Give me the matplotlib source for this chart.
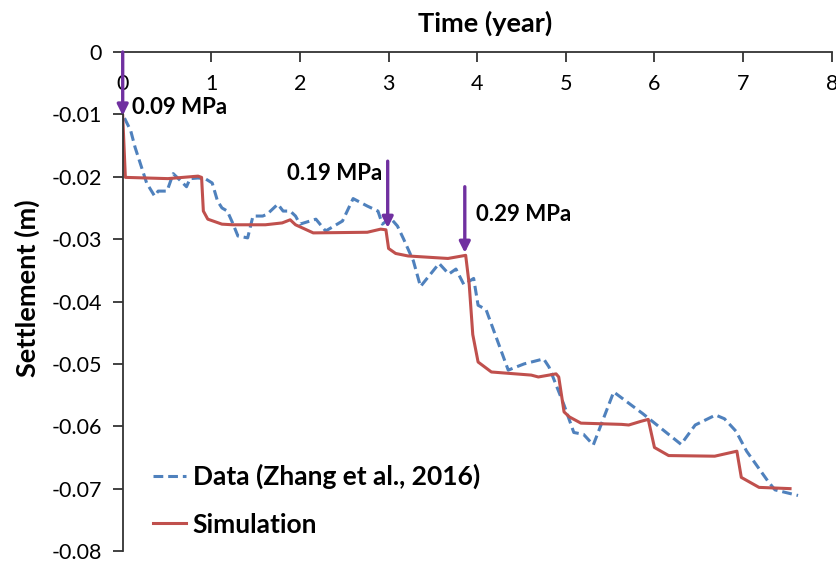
import numpy as np
import matplotlib
matplotlib.use('Agg')
import matplotlib.pyplot as plt
from matplotlib.ticker import FuncFormatter

plt.rcParams['font.family'] = ['Lato', 'DejaVu Sans']
plt.rcParams['axes.unicode_minus'] = False

# measured settlement (dashed)
data_t = [0.02, 0.09, 0.14, 0.27, 0.36, 0.40, 0.50, 0.57, 0.65, 0.72, 0.76, 0.85,
          0.93, 1.01, 1.07, 1.12, 1.18, 1.24, 1.30, 1.41, 1.47, 1.58, 1.63, 1.75,
          1.81, 1.89, 1.95, 2.00, 2.18, 2.29, 2.48, 2.60, 2.76, 2.88, 2.93, 3.02,
          3.10, 3.17, 3.28, 3.36, 3.57, 3.68, 3.76, 3.85, 3.96, 4.01, 4.10, 4.35,
          4.53, 4.75, 4.81, 4.98, 5.09, 5.20, 5.31, 5.54, 5.87, 6.30, 6.46, 6.69,
          6.79, 6.92, 7.04, 7.28, 7.36, 7.62]
data_v = [-0.0106, -0.0126, -0.0153, -0.0210, -0.0231, -0.0223, -0.0223, -0.0195,
          -0.0206, -0.0216, -0.0203, -0.0202, -0.0203, -0.0210, -0.0239, -0.0250,
          -0.0255, -0.0274, -0.0295, -0.0298, -0.0263, -0.0263, -0.0260, -0.0244,
          -0.0255, -0.0255, -0.0263, -0.0276, -0.0268, -0.0287, -0.0271, -0.0235,
          -0.0247, -0.0255, -0.0276, -0.0266, -0.0279, -0.0300, -0.0335, -0.0376,
          -0.0339, -0.0356, -0.0348, -0.0373, -0.0363, -0.0406, -0.0413, -0.0510,
          -0.0500, -0.0492, -0.0505, -0.0566, -0.0610, -0.0613, -0.0630, -0.0545,
          -0.0580, -0.0629, -0.0598, -0.0582, -0.0588, -0.0608, -0.0640, -0.0688,
          -0.0702, -0.0711]

# model result (solid)
sim_t = [0.0, 0.03, 0.51, 0.85, 0.89, 0.91, 0.96, 1.12, 1.24, 1.61, 1.80, 1.89,
         1.95, 2.15, 2.76, 2.91, 2.97, 3.00, 3.08, 3.22, 3.67, 3.87, 3.91, 3.95,
         4.01, 4.16, 4.61, 4.69, 4.89, 4.92, 4.98, 5.04, 5.17, 5.63, 5.71, 5.85,
         5.93, 6.00, 6.16, 6.68, 6.93, 6.98, 7.18, 7.53]
sim_v = [-0.0102, -0.0201, -0.0203, -0.0199, -0.0201, -0.0255, -0.0268, -0.0276,
         -0.0277, -0.0277, -0.0274, -0.0269, -0.0277, -0.0290, -0.0289, -0.0284,
         -0.0285, -0.0315, -0.0323, -0.0327, -0.0331, -0.0326, -0.0373, -0.0453,
         -0.0497, -0.0513, -0.0518, -0.0521, -0.0516, -0.0521, -0.0577, -0.0585,
         -0.0595, -0.0597, -0.0598, -0.0592, -0.0589, -0.0634, -0.0647, -0.0648,
         -0.0640, -0.0682, -0.0698, -0.0700]

# load steps: (time, arrow top, arrow tip)
load_t   = [0.0, 2.99, 3.86]
load_top = [0.0, -0.0175, -0.0216]
load_tip = [-0.0102, -0.0282, -0.0322]
load_lbl = ['0.09 MPa', '0.19 MPa', '0.29 MPa']

W, H = 836, 563
fig = plt.figure(figsize=(W/100, H/100), dpi=100)
ax = fig.add_axes([122.7/W, 1-551/H, (831.7-122.7)/W, (551-52)/H])

ax.plot(data_t, data_v, color='#4F81BD', lw=2.2, ls=(0, (3.2, 1.6)),
        label='Data (Zhang et al., 2016)')
ax.plot(sim_t, sim_v, color='#C0504D', lw=2.2, label='Simulation')

for t, y0, y1 in zip(load_t, load_top, load_tip):
    ax.annotate('', xy=(t, y1), xytext=(t, y0),
                arrowprops=dict(arrowstyle='-|>', color='#7030A0', lw=2.4,
                                mutation_scale=16, shrinkA=0, shrinkB=0))

ax.text(0.105, -0.0089, load_lbl[0], fontsize=16, fontweight='bold', va='center', ha='left')
ax.text(2.93, -0.0194, load_lbl[1], fontsize=16, fontweight='bold', va='center', ha='right')
ax.text(3.99, -0.0260, load_lbl[2], fontsize=16, fontweight='bold', va='center', ha='left')

ax.set_xlim(0, 8)
ax.set_ylim(-0.08, 0)
ax.set_xticks(np.arange(0, 9, 1))
ax.set_yticks(np.arange(-0.08, 0.001, 0.01))
ax.yaxis.set_major_formatter(FuncFormatter(lambda v, p: '0' if abs(v) < 1e-9 else f'{v:.2f}'))

ax.spines['bottom'].set_position(('data', 0))
ax.spines['top'].set_visible(False)
ax.spines['right'].set_visible(False)
for s in ('bottom', 'left'):
    ax.spines[s].set_linewidth(1.3)
    ax.spines[s].set_color('#333333')
ax.tick_params(axis='both', direction='out', length=7, width=1.3, color='#333333',
               labelsize=15.5, labelcolor='black')
ax.tick_params(axis='x', pad=9)
ax.tick_params(axis='y', pad=8)

fig.text(485/W, 1-23/H, 'Time (year)', fontsize=19.5, fontweight='bold', ha='center', va='center')
fig.text(27/W, 1-288/H, 'Settlement (m)', fontsize=19.5, fontweight='bold', ha='center',
         va='center', rotation=90)

ax.legend(loc='upper left', bbox_to_anchor=(153/W, 1-464/H), bbox_transform=fig.transFigure,
          frameon=False, handlelength=1.25, handletextpad=0.25,
          borderpad=0, borderaxespad=0, labelspacing=0.88,
          prop=dict(family=['Lato', 'DejaVu Sans'], weight='bold', size=19))

fig.savefig('out.png', dpi=100)
